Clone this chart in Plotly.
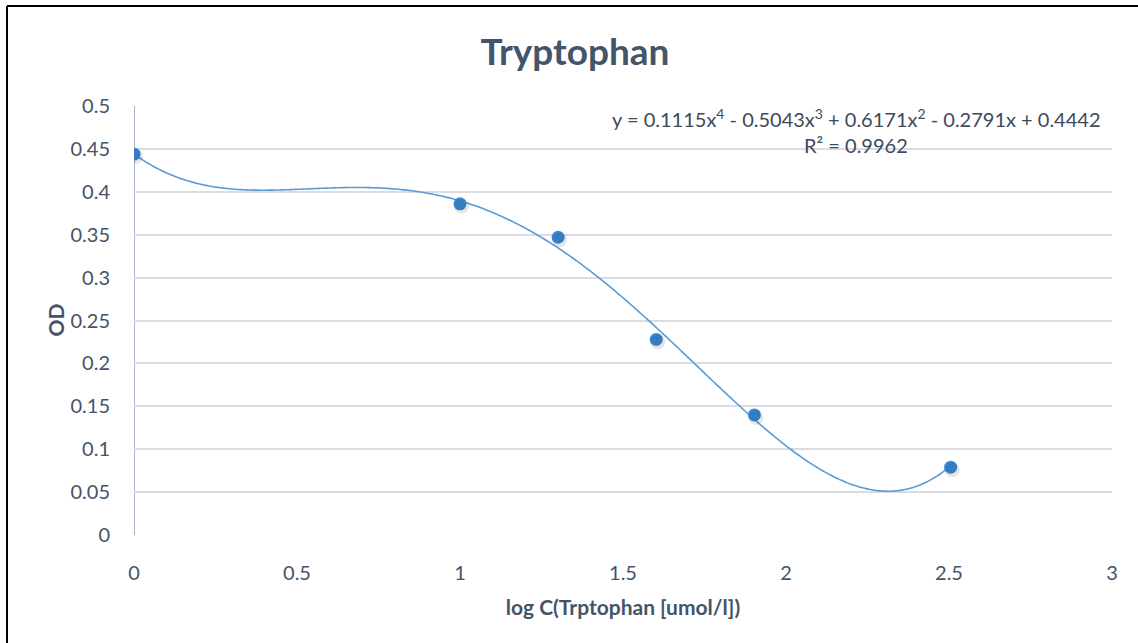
import numpy as np
import plotly.graph_objects as go

# Measured data: log concentration vs optical density
log_conc = [0, 1.0, 1.301, 1.602, 1.903, 2.505]
od = [0.444, 0.386, 0.347, 0.228, 0.140, 0.079]

# 4th-order polynomial trendline coefficients (highest power first)
trend_coef = [0.1115, -0.5043, 0.6171, -0.2791, 0.4442]
r_squared = 0.9962

x_ticks = [0, 0.5, 1, 1.5, 2, 2.5, 3]
y_ticks = [0, 0.05, 0.1, 0.15, 0.2, 0.25, 0.3, 0.35, 0.4, 0.45, 0.5]

FONT = "Lato, 'Open Sans', sans-serif"
TEXT = "#44546A"

W, H = 1138, 643
L, R, T, B = 134, 26, 106, 108
pw, ph = W - L - R, H - T - B

def px(x):
    return (x - L) / pw

def py(y):
    return (H - B - y) / ph

xs = np.linspace(min(log_conc), max(log_conc), 300)
ys = np.polyval(trend_coef, xs)

fig = go.Figure()
fig.add_trace(go.Scatter(
    x=xs, y=ys, mode="lines",
    line=dict(color="#5B9BD5", width=1.6, shape="spline"),
    hoverinfo="skip", showlegend=False,
))
# soft drop shadow under markers
fig.add_trace(go.Scatter(
    x=log_conc, y=od, mode="markers",
    marker=dict(size=15, color="rgba(0,0,0,0.10)"),
    xaxis="x2", yaxis="y2",
    hoverinfo="skip", showlegend=False,
))
fig.add_trace(go.Scatter(
    x=log_conc, y=od, mode="markers",
    marker=dict(size=13, color="#3C8CDA", line=dict(width=0)),
    showlegend=False,
))

c = trend_coef
eq = (f"y = {c[0]:.4f}x<sup>4</sup> - {abs(c[1]):.4f}x<sup>3</sup> + "
      f"{c[2]:.4f}x<sup>2</sup> - {abs(c[3]):.4f}x + {c[4]:.4f}")

axis_common = dict(
    showline=False, zeroline=False, ticks="outside", tickcolor="rgba(0,0,0,0)",
    tickfont=dict(family=FONT, size=20, color=TEXT),
)

fig.update_layout(
    width=W, height=H,
    margin=dict(l=L, r=R, t=T, b=B),
    paper_bgcolor="white", plot_bgcolor="white",
    title=dict(text="<b>Tryptophan</b>", x=575 / W, xanchor="center",
               y=1 - 52 / H, yanchor="middle",
               font=dict(family=FONT, size=37, color=TEXT)),
    xaxis=dict(
        range=[0, 3], tickvals=x_ticks, ticktext=[f"{v:g}" for v in x_ticks],
        showgrid=False, ticklen=20,
        title=dict(text="<b>log C(Trptophan [umol/l])</b>", standoff=17,
                   font=dict(family=FONT, size=21, color=TEXT)),
        **axis_common,
    ),
    yaxis=dict(
        range=[0, 0.5], tickvals=y_ticks, ticktext=[f"{v:g}" for v in y_ticks],
        showgrid=True, gridcolor="#D9DCE3", gridwidth=1.5, ticklen=19,
        **axis_common,
    ),
    xaxis2=dict(range=[0 - 3 * 1.5 / pw, 3 - 3 * 1.5 / pw], overlaying="x", visible=False),
    yaxis2=dict(range=[0 + 0.5 * 2.5 / ph, 0.5 + 0.5 * 2.5 / ph], overlaying="y", visible=False),
    annotations=[
        dict(text="<b>OD</b>", x=px(55), y=0.5, xref="paper", yref="paper",
             showarrow=False, xanchor="center", yanchor="middle", textangle=-90,
             font=dict(family=FONT, size=21, color=TEXT)),
        dict(text=eq, x=px(856), y=py(118), xref="paper", yref="paper",
             showarrow=False, xanchor="center", yanchor="middle",
             font=dict(family=FONT, size=20, color="#404A5A")),
        dict(text=f"R² = {r_squared:.4f}", x=px(856), y=py(145), xref="paper", yref="paper",
             showarrow=False, xanchor="center", yanchor="middle",
             font=dict(family=FONT, size=20, color="#404A5A")),
    ],
    shapes=[
        # y axis line
        dict(type="line", xref="x", yref="paper", x0=0, x1=0, y0=0, y1=1,
             line=dict(color="#A9B4C8", width=2), layer="below"),
        # outer frame (left and top edges)
        dict(type="line", xref="paper", yref="paper",
             x0=px(7), x1=px(7), y0=py(H + 2), y1=py(6),
             line=dict(color="black", width=2)),
        dict(type="line", xref="paper", yref="paper",
             x0=px(7), x1=px(W + 2), y0=py(6), y1=py(6),
             line=dict(color="black", width=2)),
    ],
)

fig.write_html("out.html")
